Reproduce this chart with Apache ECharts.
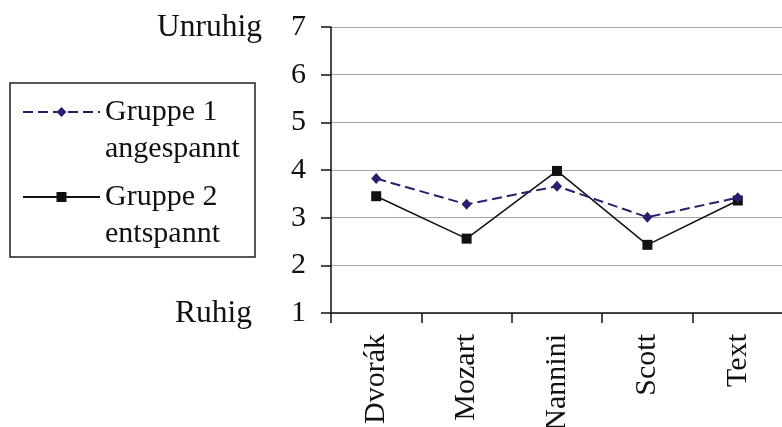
<!DOCTYPE html>
<html>
<head>
<meta charset="utf-8">
<script src="https://cdn.jsdelivr.net/npm/echarts@6/dist/echarts.min.js"></script>
<style>
html,body{margin:0;padding:0;background:#fff;}
#main{width:782px;height:427px;}
</style>
</head>
<body>
<div id="main"></div>
<script>
var categories = ['Dvorák', 'Mozart', 'Nannini', 'Scott', 'Text'];
var gruppe1 = [3.82, 3.28, 3.66, 3.01, 3.42];
var gruppe2 = [3.45, 2.56, 3.98, 2.43, 3.36];
var seriesNames = ['Gruppe 1', 'Gruppe 2'];
var legendSub = {'Gruppe 1': 'angespannt', 'Gruppe 2': 'entspannt'};
var yTop = 'Unruhig';
var yBottom = 'Ruhig';

var FONT = "'Liberation Serif', 'Times New Roman', serif";
var chart = echarts.init(document.getElementById('main'), null, {renderer: 'canvas'});

var option = {
  animation: false,
  backgroundColor: '#fff',
  grid: {left: 331, top: 27, bottom: 114, right: -1, containLabel: false, outerBoundsMode: 'none'},
  legend: {
    orient: 'vertical',
    left: 22,
    top: 56.5,
    padding: 0,
    itemGap: -26,
    itemWidth: 77,
    itemHeight: 12.5,
    selectedMode: false,
    data: seriesNames,
    formatter: function (n) { return '\u00a0\n' + n + '\n' + legendSub[n]; },
    textStyle: {
      fontFamily: FONT, fontSize: 30, color: '#111', lineHeight: 37
    }
  },
  xAxis: {
    type: 'category',
    data: categories,
    boundaryGap: true,
    axisLine: {lineStyle: {color: '#111', width: 1.5}},
    axisTick: {show: true, length: 10, alignWithLabel: false, lineStyle: {color: '#111', width: 1.5}},
    axisLabel: {rotate: 90, margin: 21, fontFamily: FONT, fontSize: 30, color: '#111', interval: 0, hideOverlap: false},
    splitLine: {show: false}
  },
  yAxis: {
    type: 'value',
    min: 1, max: 7, interval: 1,
    axisLine: {show: true, lineStyle: {color: '#111', width: 1.5}},
    axisTick: {show: true, length: 10, lineStyle: {color: '#111', width: 1.5}},
    axisLabel: {margin: 25, fontFamily: FONT, fontSize: 30, color: '#111'},
    splitLine: {show: true, lineStyle: {color: '#a6a6a6', width: 1.2}}
  },
  series: [
    {
      name: seriesNames[0],
      type: 'line',
      data: gruppe1,
      symbol: 'diamond',
      symbolSize: [10, 11],
      itemStyle: {color: '#27206e'},
      lineStyle: {color: '#27206e', width: 2, type: [10, 5]},
      z: 3
    },
    {
      name: seriesNames[1],
      type: 'line',
      data: gruppe2,
      symbol: 'rect',
      symbolSize: 10,
      itemStyle: {color: '#111'},
      lineStyle: {color: '#111', width: 1.5, type: 'solid'},
      z: 2
    }
  ]
};
chart.setOption(option);

var y7 = chart.convertToPixel({yAxisIndex: 0}, 7);
var y1 = chart.convertToPixel({yAxisIndex: 0}, 1);
chart.setOption({
  graphic: [
    {type: 'text', x: 262, y: y7 + 1, style: {text: yTop, font: '31.5px ' + FONT, fill: '#111', align: 'right', verticalAlign: 'middle'}},
    {type: 'text', x: 252, y: y1 + 1, style: {text: yBottom, font: '31.5px ' + FONT, fill: '#111', align: 'right', verticalAlign: 'middle'}},
    {type: 'rect', shape: {x: 10, y: 83, width: 245, height: 174}, style: {fill: 'none', stroke: '#222', lineWidth: 1.5}}
  ]
});
</script>
</body>
</html>
